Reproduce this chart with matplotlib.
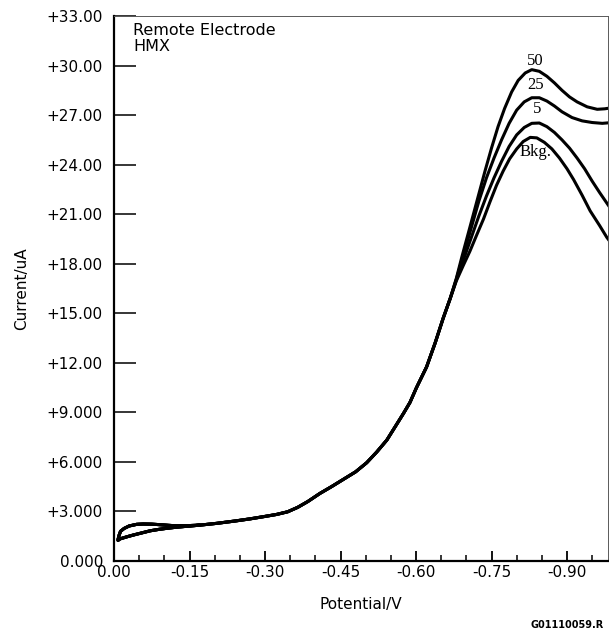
import matplotlib
matplotlib.use("Agg")
import matplotlib.pyplot as plt
from matplotlib.ticker import FixedLocator, MultipleLocator

# shared part of the scans: return branch of the small loop near 0 V
loop_x = [-0.17, -0.145, -0.125, -0.108, -0.091, -0.075, -0.058, -0.045,
          -0.030, -0.020, -0.013, -0.010, -0.008]
loop_y = [2.17, 2.14, 2.13, 2.16, 2.20, 2.23, 2.24, 2.22,
          2.12, 1.97, 1.80, 1.55, 1.30]

# shared forward branch up to where the traces split
base_x = [-0.008, -0.012, -0.025, -0.038, -0.055, -0.072, -0.090, -0.105,
          -0.125, -0.144, -0.170, -0.204, -0.240, -0.270, -0.300, -0.323,
          -0.345, -0.365, -0.385, -0.409, -0.432, -0.456, -0.480, -0.502,
          -0.522, -0.542, -0.558, -0.575, -0.588, -0.601, -0.621, -0.638,
          -0.654, -0.668]
base_y = [1.25, 1.34, 1.46, 1.57, 1.70, 1.83, 1.92, 1.98,
          2.05, 2.10, 2.17, 2.28, 2.42, 2.55, 2.70, 2.82,
          2.98, 3.25, 3.60, 4.09, 4.50, 4.95, 5.40, 5.95,
          6.60, 7.32, 8.10, 8.93, 9.60, 10.50, 11.75, 13.20,
          14.70, 15.90]

# peak region of each trace
x_50 = [-0.680, -0.691, -0.707, -0.722, -0.737, -0.750, -0.763, -0.776,
        -0.790, -0.803, -0.817, -0.830, -0.845, -0.860, -0.875, -0.890,
        -0.905, -0.920, -0.940, -0.960, -0.975, -0.990]
y_50 = [17.1, 18.4, 20.2, 21.9, 23.6, 25.0, 26.3, 27.4,
        28.4, 29.1, 29.55, 29.75, 29.65, 29.35, 28.95, 28.5,
        28.1, 27.8, 27.5, 27.35, 27.38, 27.45]

x_25 = [-0.680, -0.693, -0.710, -0.725, -0.740, -0.755, -0.770, -0.785,
        -0.800, -0.815, -0.830, -0.845, -0.860, -0.875, -0.890, -0.910,
        -0.930, -0.950, -0.970, -0.990]
y_25 = [17.05, 18.4, 20.2, 21.8, 23.2, 24.4, 25.5, 26.5,
        27.3, 27.8, 28.05, 28.05, 27.85, 27.55, 27.2, 26.85,
        26.65, 26.55, 26.5, 26.55]

x_5 = [-0.680, -0.695, -0.710, -0.725, -0.740, -0.755, -0.770, -0.785,
       -0.800, -0.815, -0.830, -0.845, -0.860, -0.875, -0.890, -0.905,
       -0.920, -0.935, -0.950, -0.965, -0.983, -0.990]
y_5 = [17.0, 18.3, 19.6, 20.9, 22.1, 23.2, 24.2, 25.1,
       25.8, 26.25, 26.5, 26.52, 26.3, 25.95, 25.5, 25.0,
       24.4, 23.75, 23.0, 22.3, 21.5, 21.2]

x_bkg = [-0.680, -0.694, -0.707, -0.720, -0.734, -0.747, -0.760, -0.773,
         -0.786, -0.800, -0.813, -0.827, -0.840, -0.855, -0.870, -0.885,
         -0.900, -0.913, -0.930, -0.946, -0.965, -0.979, -0.990]
y_bkg = [16.95, 17.9, 18.75, 19.7, 20.7, 21.75, 22.75, 23.6,
         24.35, 24.95, 25.4, 25.65, 25.62, 25.35, 24.95, 24.4,
         23.75, 23.1, 22.15, 21.2, 20.3, 19.6, 19.15]

trace_names = ["50", "25", "5", "Bkg."]
trace_x = [x_50, x_25, x_5, x_bkg]
trace_y = [y_50, y_25, y_5, y_bkg]
label_x = [-0.837, -0.838, -0.841, -0.838]
label_y = [30.25, 28.8, 27.35, 24.75]

xticks = [0.0, -0.15, -0.30, -0.45, -0.60, -0.75, -0.90]
xtick_labels = ["0.00", "-0.15", "-0.30", "-0.45", "-0.60", "-0.75", "-0.90"]
yticks = [0, 3, 6, 9, 12, 15, 18, 21, 24, 27, 30, 33]
ytick_labels = ["0.000", "+3.000", "+6.000", "+9.000", "+12.00", "+15.00",
                "+18.00", "+21.00", "+24.00", "+27.00", "+30.00", "+33.00"]

plt.rcParams['font.family'] = ['DejaVu Sans']
plt.rcParams['font.size'] = 11

fig = plt.figure(figsize=(6.09, 6.37), dpi=100)
ax = fig.add_axes([0.1872, 0.1193, 0.8112, 0.8556])

for tx, ty in zip(trace_x, trace_y):
    ax.plot(loop_x + base_x + tx, loop_y + base_y + ty,
            color='black', lw=2.2, solid_capstyle='round',
            solid_joinstyle='round')

for name, lx, ly in zip(trace_names, label_x, label_y):
    ax.text(lx, ly, name, ha='center', va='center', fontsize=12,
            family='Liberation Serif')

ax.set_xlim(0, -0.9815)
ax.set_ylim(0, 33)

ax.xaxis.set_major_locator(FixedLocator(xticks))
ax.set_xticklabels(xtick_labels)
ax.xaxis.set_minor_locator(MultipleLocator(0.05))
ax.yaxis.set_major_locator(FixedLocator(yticks))
ax.set_yticklabels(ytick_labels)

ax.tick_params(axis='x', which='major', direction='in', length=7, width=1.3, pad=3)
ax.tick_params(axis='x', which='minor', direction='in', length=4.5, width=1.1)
ax.tick_params(axis='y', which='major', direction='in', length=16, width=1.1, pad=8)

for side in ['left', 'bottom']:
    ax.spines[side].set_linewidth(1.6)
for side in ['top', 'right']:
    ax.spines[side].set_linewidth(0.7)
    ax.spines[side].set_color('0.35')

ax.text(0.0385, 0.988, "Remote Electrode", transform=ax.transAxes,
        ha='left', va='top', fontsize=11.5)
ax.text(0.0385, 0.958, "HMX", transform=ax.transAxes, ha='left', va='top',
        fontsize=11.5)

ax.set_xlabel("Potential/V")
ax.xaxis.set_label_coords(0.5, -0.066)
ax.set_ylabel("Current/uA")
ax.yaxis.set_label_coords(-0.172, 0.5)

fig.text(0.871, 0.011, "G01110059.R", fontsize=7, fontweight='bold',
         ha='left', va='bottom')

fig.savefig("out.png", dpi=100)
